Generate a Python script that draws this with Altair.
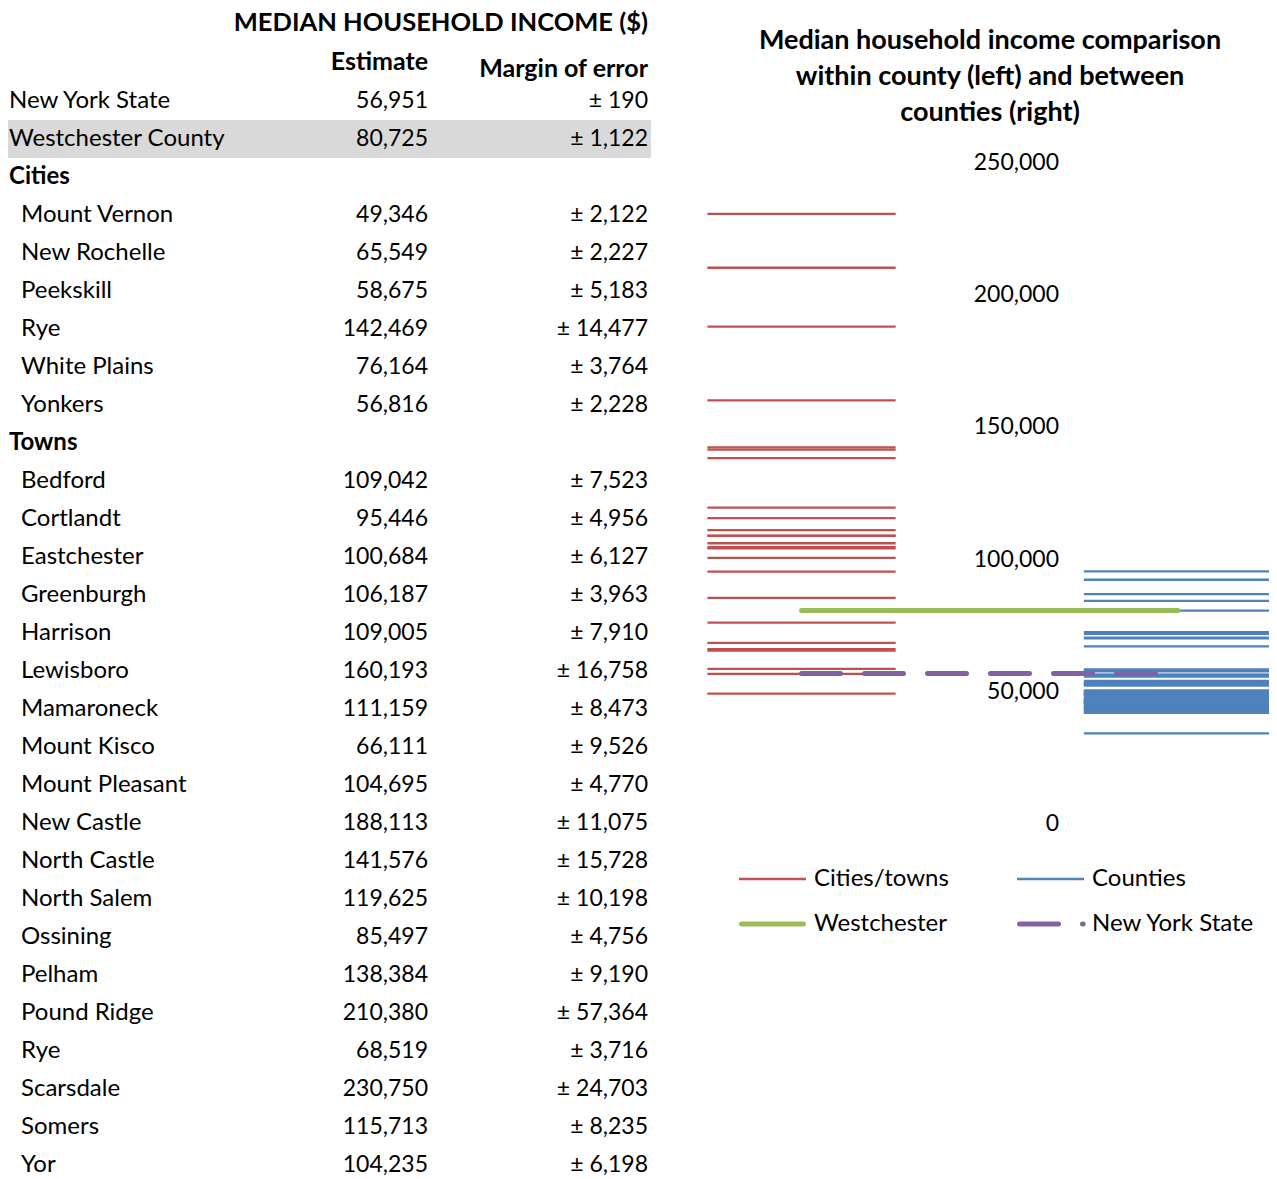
import altair as alt
import pandas as pd

# ---------------- data ----------------
state_name = "New York State"
state_estimate = 56951
state_moe = 190
county_name = "Westchester County"
county_estimate = 80725
county_moe = 1122

city_names = ["Mount Vernon", "New Rochelle", "Peekskill", "Rye", "White Plains", "Yonkers"]
city_estimates = [49346, 65549, 58675, 142469, 76164, 56816]
city_moe = [2122, 2227, 5183, 14477, 3764, 2228]

town_names = ["Bedford", "Cortlandt", "Eastchester", "Greenburgh", "Harrison", "Lewisboro",
              "Mamaroneck", "Mount Kisco", "Mount Pleasant", "New Castle", "North Castle",
              "North Salem", "Ossining", "Pelham", "Pound Ridge", "Rye", "Scarsdale",
              "Somers", "Yor"]
town_estimates = [109042, 95446, 100684, 106187, 109005, 160193, 111159, 66111, 104695,
                  188113, 141576, 119625, 85497, 138384, 210380, 68519, 230750, 115713, 104235]
town_moe = [7523, 4956, 6127, 3963, 7910, 16758, 8473, 9526, 4770, 11075, 15728, 10198,
            4756, 9190, 57364, 3716, 24703, 8235, 6198]

county_names = ["Albany", "Allegany", "Bronx", "Broome", "Cattaraugus", "Cayuga", "Chautauqua",
                "Chemung", "Chenango", "Clinton", "Columbia", "Cortland", "Delaware", "Dutchess",
                "Erie", "Essex", "Franklin", "Fulton", "Genesee", "Greene", "Hamilton",
                "Herkimer", "Jefferson", "Kings", "Lewis", "Livingston", "Madison", "Monroe",
                "Montgomery", "Nassau", "New York", "Niagara", "Oneida", "Onondaga", "Ontario",
                "Orange", "Orleans", "Oswego", "Otsego", "Putnam", "Queens", "Rensselaer",
                "Richmond", "Rockland", "St. Lawrence", "Saratoga", "Schenectady", "Schoharie",
                "Schuyler", "Seneca", "Steuben", "Suffolk", "Sullivan", "Tioga", "Tompkins",
                "Ulster", "Warren", "Washington", "Wayne", "Westchester", "Wyoming", "Yates"]
county_values = [57715, 42095, 34299, 45347, 42449, 49436, 42060, 46937, 44644, 48858,
                 56445, 46629, 43324, 71904, 50104, 46009, 43953, 44426, 50552, 48991,
                 49174, 44339, 46374, 43567, 45271, 53177, 53045, 52354, 43035, 95516,
                 67204, 47327, 47346, 53593, 56125, 70508, 47005, 46188, 45890, 92376,
                 56406, 58111, 72540, 84414, 43493, 70246, 55715, 48929, 46016, 48045,
                 46183, 86929, 49010, 52613, 49500, 58428, 54105, 50049, 53002, 80725,
                 49969, 46059]

axis_ticks = [0, 50000, 100000, 150000, 200000, 250000]
chart_title = ["Median household income comparison", "within county (left) and between", "counties (right)"]
legend_labels = ["Cities/towns", "Counties", "Westchester", "New York State"]

FONT = "Lato"
FS = 24      # names / legend
FSN = 23     # numbers

# ---------------- tables ----------------
rows = [(state_name, 0, False, state_estimate, state_moe),
        (county_name, 0, False, county_estimate, county_moe),
        ("Cities", 0, True, 0, 0)]
rows += [(n, 1, False, e, m) for n, e, m in zip(city_names, city_estimates, city_moe)]
rows += [("Towns", 0, True, 0, 0)]
rows += [(n, 1, False, e, m) for n, e, m in zip(town_names, town_estimates, town_moe)]

table = pd.DataFrame(rows, columns=["name", "indent", "bold", "est", "moe"])
table["row"] = range(len(table))
table["est_text"] = [f"{int(v):,}" if v else "" for v in table["est"]]
table["moe_text"] = [f"± {int(v):,}" if v else "" for v in table["moe"]]

n_rows = len(table)
row_scale = alt.Scale(domain=[0, n_rows - 1], range=[93, 93 + 38 * (n_rows - 1)], nice=False, zero=False)
indent_scale = alt.Scale(domain=[0, 1], range=[1, 13], nice=False, zero=False)

highlight = alt.Chart(table[table["name"] == county_name]).transform_calculate(
    r0="datum.row - 0.5", r1="datum.row + 0.5"
).mark_rect(color="#D9D9D9").encode(
    y=alt.Y("r0:Q", scale=row_scale, axis=None), y2="r1:Q",
    x=alt.value(-2), x2=alt.value(643)
)

names_normal = alt.Chart(table[~table["bold"]]).mark_text(
    align="left", baseline="middle", font=FONT, fontSize=FS, color="black"
).encode(
    x=alt.X("indent:Q", scale=indent_scale, axis=None),
    y=alt.Y("row:Q", scale=row_scale, axis=None),
    text="name:N"
)
names_bold = alt.Chart(table[table["bold"]]).mark_text(
    align="left", baseline="middle", font=FONT, fontSize=FS, fontWeight="bold", color="black"
).encode(
    x=alt.X("indent:Q", scale=indent_scale, axis=None),
    y=alt.Y("row:Q", scale=row_scale, axis=None),
    text="name:N"
)
est_col = alt.Chart(table).mark_text(
    align="right", baseline="middle", font=FONT, fontSize=FSN, color="black"
).encode(x=alt.value(420), y=alt.Y("row:Q", scale=row_scale, axis=None), text="est_text:N")
moe_col = alt.Chart(table).mark_text(
    align="right", baseline="middle", font=FONT, fontSize=FSN, color="black"
).encode(x=alt.value(640), y=alt.Y("row:Q", scale=row_scale, axis=None), text="moe_text:N")

headers = pd.DataFrame({
    "text": ["MEDIAN HOUSEHOLD INCOME ($)", "Estimate", "Margin of error"],
    "xp": [640, 420, 640],
    "yp": [15, 54, 61],
    "fs": [25.5, 25, 25],
})
header_marks = alt.Chart(headers).mark_text(
    align="right", baseline="middle", font=FONT, fontWeight="bold", color="black"
).encode(x=alt.X("xp:Q", scale=None, axis=None), y=alt.Y("yp:Q", scale=None, axis=None),
         text="text:N", size=alt.Size("fs:Q", scale=None, legend=None))

# ---------------- chart ----------------
lines = pd.DataFrame(
    [("Cities/towns", v, 0) for v in city_estimates + town_estimates]
    + [("Counties", v, 1) for v in county_values]
)
lines.columns = ["series", "value", "cat"]
ref = pd.DataFrame({"series": ["Westchester", "New York State"],
                    "value": [county_estimate, state_estimate]})

yscale = alt.Scale(domain=[0, 250000], range=[816, 155], nice=False, zero=False)
xscale = alt.Scale(domain=[0, 1], range=[793.5, 1170], nice=False, zero=False)

def rules(series, color):
    return alt.Chart(lines[lines["series"] == series]).transform_calculate(
        xa="datum.cat - 0.25", xb="datum.cat + 0.25"
    ).mark_rule(color=color, strokeWidth=2.3).encode(
        x=alt.X("xa:Q", scale=xscale, axis=None), x2="xb:Q",
        y=alt.Y("value:Q", scale=yscale, axis=None)
    )

red = rules("Cities/towns", "#C0504D")
blue = rules("Counties", "#4F81BD")

green = alt.Chart(ref[ref["series"] == "Westchester"]).transform_calculate(
    xa="0", xb="1"
).mark_rule(color="#9BBB59", strokeWidth=5, strokeCap="round").encode(
    x=alt.X("xa:Q", scale=xscale, axis=None), x2="xb:Q",
    y=alt.Y("value:Q", scale=yscale, axis=None)
)
purple = alt.Chart(ref[ref["series"] == "New York State"]).transform_calculate(
    xa="0", xb="1"
).mark_rule(color="#8064A2", strokeWidth=5, strokeCap="round", strokeDash=[39, 24]).encode(
    x=alt.X("xa:Q", scale=xscale, axis=None), x2="xb:Q",
    y=alt.Y("value:Q", scale=yscale, axis=None)
)

tick_df = pd.DataFrame({"v": axis_ticks})
tick_labels = alt.Chart(tick_df).mark_text(
    align="right", baseline="middle", font=FONT, fontSize=FSN, color="black"
).encode(
    x=alt.value(1051), y=alt.Y("v:Q", scale=yscale, axis=None),
    text=alt.Text("v:Q", format=",")
)

title_df = pd.DataFrame({"t": chart_title, "i": range(len(chart_title))})
title_marks = alt.Chart(title_df).mark_text(
    align="center", baseline="middle", font=FONT, fontSize=27, fontWeight="bold", color="black"
).encode(
    x=alt.value(982),
    y=alt.Y("i:Q", scale=alt.Scale(domain=[0, 2], range=[33, 105], nice=False, zero=False), axis=None),
    text="t:N"
)

# ---------------- legend ----------------
leg = pd.DataFrame({"label": legend_labels, "col": [0, 1, 0, 1], "lrow": [0, 0, 1, 1]})
leg_x = alt.Scale(domain=[0, 1], range=[731, 1009], nice=False, zero=False)
leg_y = alt.Scale(domain=[0, 1], range=[871, 916], nice=False, zero=False)

def leg_rule(label, color, width, end, dash=None):
    thick = width > 3
    kw = dict(color=color, strokeWidth=width, strokeCap="round" if thick else "butt")
    if dash:
        kw["strokeDash"] = dash
    return alt.Chart(leg[leg["label"] == label]).transform_calculate(
        x1="datum.col + (%s)" % ("0.009" if thick else "0"),
        x2="datum.col + (%s)" % end
    ).mark_rule(**kw).encode(
        x=alt.X("x1:Q", scale=leg_x, axis=None), x2="x2:Q",
        y=alt.Y("lrow:Q", scale=leg_y, axis=None)
    )

leg_rules = [
    leg_rule("Cities/towns", "#C0504D", 2.3, "0.241"),
    leg_rule("Counties", "#4F81BD", 2.3, "0.241"),
    leg_rule("Westchester", "#9BBB59", 5, "0.232"),
    leg_rule("New York State", "#8064A2", 5, "0.238", [39, 24]),
]
leg_text = alt.Chart(leg).transform_calculate(xt="datum.col + 0.27").mark_text(
    align="left", baseline="middle", font=FONT, fontSize=FS, color="black"
).encode(
    x=alt.X("xt:Q", scale=leg_x, axis=None),
    y=alt.Y("lrow:Q", scale=leg_y, axis=None),
    text="label:N"
)

chart = alt.layer(
    highlight, names_normal, names_bold, est_col, moe_col, header_marks,
    title_marks, red, blue, green, purple, tick_labels, *leg_rules, leg_text
).resolve_scale(x="independent", y="independent", size="independent").properties(
    width=1261, height=1171, autosize=alt.AutoSizeParams(type="none"), padding=0
).configure_view(stroke=None)

chart.save("out.html", embed_options={"renderer": "svg", "actions": False})
